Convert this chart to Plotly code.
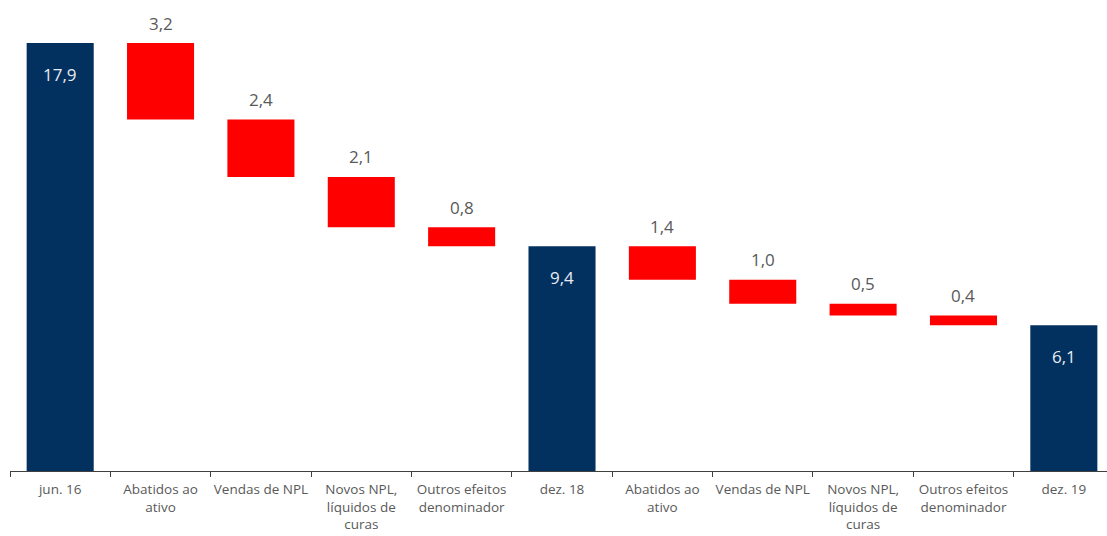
import plotly.graph_objects as go

categories = ["jun. 16", "Abatidos ao<br>ativo", "Vendas de NPL", "Novos NPL,<br>líquidos de<br>curas",
              "Outros efeitos<br>denominador", "dez. 18", "Abatidos ao<br>ativo", "Vendas de NPL",
              "Novos NPL,<br>líquidos de<br>curas", "Outros efeitos<br>denominador", "dez. 19"]
values = [17.9, -3.2, -2.4, -2.1, -0.8, 9.4, -1.4, -1.0, -0.5, -0.4, 6.1]
measures = ["absolute", "relative", "relative", "relative", "relative", "total",
            "relative", "relative", "relative", "relative", "total"]

NAVY = "#02305F"
RED = "#FF0000"
GRAY = "#595959"
FONT = "Open Sans"

x = list(range(len(categories)))

fig = go.Figure(go.Waterfall(
    x=x, y=values, measure=measures,
    width=0.668,
    increasing=dict(marker=dict(color=NAVY)),
    decreasing=dict(marker=dict(color=RED)),
    totals=dict(marker=dict(color=NAVY)),
    connector=dict(visible=False),
    hoverinfo="skip",
))

# labels
running = 0.0
annotations = []
for i, (v, m) in enumerate(zip(values, measures)):
    txt = f"{abs(v):.1f}".replace(".", ",")
    if m in ("absolute", "total"):
        running = v
        annotations.append(dict(x=i, y=v, text=txt, showarrow=False, yshift=-31,
                                font=dict(color="#E8ECF2", size=17, family=FONT)))
    else:
        top = running
        running += v
        annotations.append(dict(x=i, y=top, text=txt, showarrow=False, yshift=20,
                                font=dict(color=GRAY, size=17, family=FONT)))

fig.update_layout(
    width=1107, height=536,
    margin=dict(l=10, r=0, t=0, b=65),
    paper_bgcolor="white", plot_bgcolor="white",
    showlegend=False,
    annotations=annotations,
    font=dict(family=FONT, color=GRAY, size=12),
    xaxis=dict(
        range=[-0.5, 10.43],
        tickmode="array", tickvals=x, ticktext=categories,
        ticks="", showgrid=False, zeroline=False,
        showline=True, linecolor="#404040", linewidth=1,
        ticklabelstandoff=6,
        tickfont=dict(size=13.5, color=GRAY, family=FONT),
        minor=dict(tickmode="linear", tick0=-0.5, dtick=1, ticks="outside",
                   ticklen=5, tickcolor="#404040", tickwidth=1, showgrid=False),
    ),
    yaxis=dict(range=[0, 19.7], visible=False, showgrid=False, zeroline=False),
)

fig.write_html("out.html")
